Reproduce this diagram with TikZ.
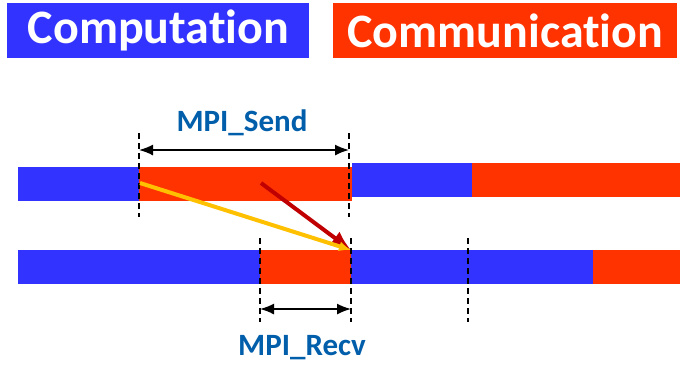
\documentclass[tikz,border=0pt]{standalone}
\usepackage{fontspec}
\setmainfont{Carlito}[Ligatures=NoCommon]
\usetikzlibrary{arrows.meta,positioning}
\definecolor{compblue}{RGB}{51,51,255}
\definecolor{commred}{RGB}{255,51,0}
\definecolor{msgyellow}{RGB}{255,192,0}
\definecolor{msgred}{RGB}{192,0,0}
\definecolor{callblue}{RGB}{0,94,170}
\tikzstyle{legend}=[rectangle,
inner sep=0pt,
anchor=north west,
minimum height=27.5pt,
text=white,
font=\bfseries\fontsize{24}{24}\selectfont]
\tikzstyle{compbar}=[fill=compblue]
\tikzstyle{commbar}=[fill=commred]
\tikzstyle{marker}=[line width=1pt,
dash pattern=on 3pt off 2pt]
\tikzstyle{span}=[line width=0.8pt,
{Latex[length=7pt,width=5.5pt]}-{Latex[length=7pt,width=5.5pt]}]
\tikzstyle{call}=[text=callblue,
font=\bfseries\fontsize{15.5}{15.5}\selectfont]

\begin{document}
\begin{tikzpicture}[x=0.5pt,y=-0.5pt]
		\useasboundingbox (0,0) rectangle (680,366);
		
		% Legend boxes
		\node (comp) [legend, fill=compblue, minimum width=151pt] at (7,3) {Computation};
		\node (comm) [legend, fill=commred, minimum width=172pt] at (333,3) {Communication};
		
		% First line: sender
		\fill[compbar] (18,167) rectangle (139,201);
		\fill[commbar] (139,167) rectangle (352,201);
		\fill[compbar] (352,163) rectangle (472,197);
		\fill[commbar] (472,163) rectangle (680,197);
		
		% Second line: receiver
		\fill[compbar] (18,250) rectangle (260,284);
		\fill[commbar] (260,250) rectangle (351,284);
		\fill[compbar] (351,250) rectangle (593,284);
		\fill[commbar] (593,250) rectangle (680,284);
		
		% Time markers
		\coordinate (s_a) at (139,133);  \coordinate (s_b) at (139,217);
		\coordinate (s_c) at (349,133);  \coordinate (s_d) at (349,217);
		\coordinate (r_a) at (260,238);  \coordinate (r_b) at (260,322);
		\coordinate (r_c) at (351,238);  \coordinate (r_d) at (351,322);
		\coordinate (w_a) at (468,238);  \coordinate (w_b) at (468,322);
		\draw[marker] (s_a) -- (s_b);
		\draw[marker] (s_c) -- (s_d);
		\draw[marker] (r_a) -- (r_b);
		\draw[marker] (r_c) -- (r_d);
		\draw[marker] (w_a) -- (w_b);
		
		% Message arrows
		\coordinate (m_s) at (140,183);
		\coordinate (m_p) at (261,183);
		\coordinate (m_r) at (351,250);
		\draw[msgred, line width=2pt, -{Latex[length=10pt,width=8pt]}] (m_p) -- (m_r);
		\draw[msgyellow, line width=2pt, -{Latex[length=6pt,width=5pt]}] (m_s) -- (m_r);
		
		% Durations of the calls
		\coordinate (send_l) at (139,150);
		\coordinate (send_r) at (349,150);
		\coordinate (recv_l) at (260,309);
		\coordinate (recv_r) at (351,309);
		\draw[span] (send_l) -- (send_r);
		\draw[span] (recv_l) -- (recv_r);
		\node (send) [call] at (242,123) {MPI\_Send};
		\node (recv) [call] at (302,348) {MPI\_Recv};
\end{tikzpicture}
\end{document}
